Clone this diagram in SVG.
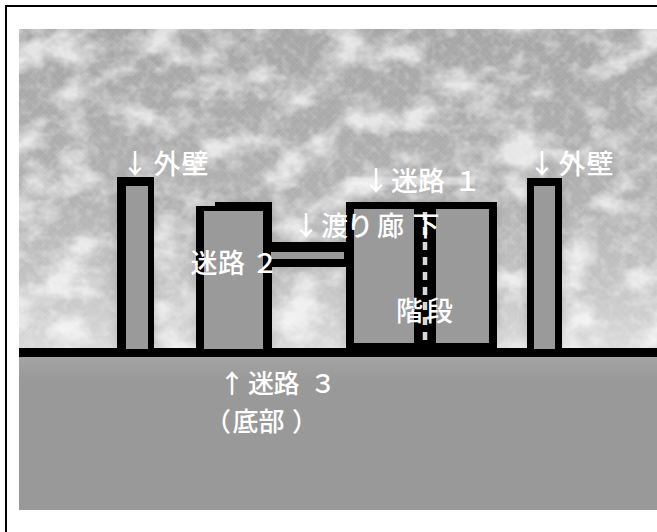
<svg xmlns="http://www.w3.org/2000/svg" width="657" height="532" viewBox="0 0 657 532">
  <style>
    .ink { fill: #000; }
    .room { fill: #9a9a9a; }
    .lbl { font-family: "Noto Sans CJK JP", "Noto Sans", sans-serif; font-size: 27px; font-weight: 500; fill: #fff; }
    .lbl-sm { font-size: 26px; }
  </style>
  <defs>
    <linearGradient id="skyGrad" x1="0" y1="29" x2="0" y2="348" gradientUnits="userSpaceOnUse">
      <stop offset="0" stop-color="#a6a6a6"/>
      <stop offset="0.5" stop-color="#b0b0b0"/>
      <stop offset="0.8" stop-color="#c4c4c4"/>
      <stop offset="1" stop-color="#dadada"/>
    </linearGradient>
    <linearGradient id="groundGrad" x1="0" y1="357" x2="0" y2="380" gradientUnits="userSpaceOnUse">
      <stop offset="0" stop-color="#a4a4a4"/>
      <stop offset="1" stop-color="#999999"/>
    </linearGradient>
    <clipPath id="skyClip"><rect x="19" y="29" width="638" height="320"/></clipPath>
    <!-- thin diagonal cross-hatching of the plaster surface -->
    <pattern id="hatch" width="9" height="9" patternUnits="userSpaceOnUse">
      <path d="M0 9 L9 0 M0 0 L9 9" stroke="#fff" stroke-width="0.7" fill="none"/>
    </pattern>
    <!-- mottled white cloud patches -->
    <filter id="clouds" x="0" y="0" width="100%" height="100%" filterUnits="objectBoundingBox">
      <feTurbulence type="fractalNoise" baseFrequency="0.022 0.03" numOctaves="4" seed="11" result="n"/>
      <feColorMatrix in="n" type="matrix" values="0 0 0 0 1  0 0 0 0 1  0 0 0 0 1  3 0 0 0 -1.3"/>
      <feGaussianBlur stdDeviation="0.6"/>
    </filter>
    <!-- fine grain of the plaster texture -->
    <filter id="grain" x="0" y="0" width="100%" height="100%" filterUnits="objectBoundingBox">
      <feTurbulence type="fractalNoise" baseFrequency="0.11" numOctaves="2" seed="3" result="g"/>
      <feColorMatrix in="g" type="matrix" values="0 0 0 0 1  0 0 0 0 1  0 0 0 0 1  2.4 0 0 0 -1.1"/>
    </filter>
    <filter id="halo" x="-30%" y="-30%" width="160%" height="160%">
      <feGaussianBlur stdDeviation="6"/>
    </filter>
    <filter id="soft" x="-10%" y="-50%" width="120%" height="200%">
      <feGaussianBlur stdDeviation="1.2"/>
    </filter>
  </defs>

  <!-- frame -->
  <rect x="0" y="0" width="657" height="532" fill="#fff"/>
  <rect x="5" y="5" width="652" height="2" class="ink"/>
  <rect x="5" y="5" width="2" height="527" class="ink"/>

  <!-- sky -->
  <g id="sky" clip-path="url(#skyClip)">
    <rect x="19" y="29" width="638" height="320" fill="url(#skyGrad)"/>
    <rect x="19" y="29" width="638" height="320" filter="url(#clouds)" opacity="0.7"/>
    <rect x="19" y="29" width="638" height="320" filter="url(#grain)" opacity="0.25"/>
    <rect x="19" y="29" width="638" height="320" fill="url(#hatch)" opacity="0.1"/>
    <!-- shading around the structures -->
    <g filter="url(#halo)" fill="#707070" opacity="0.3">
      <rect x="117" y="177" width="37" height="172"/>
      <rect x="196" y="202" width="76" height="147"/>
      <rect x="272" y="242" width="74" height="26"/>
      <rect x="346" y="202" width="151" height="147"/>
      <rect x="527" y="178" width="35" height="171"/>
    </g>
  </g>

  <!-- ground -->
  <g id="ground">
    <rect x="19" y="352" width="638" height="158" fill="url(#groundGrad)"/>
    <rect x="19" y="348" width="638" height="9" class="ink"/>
  </g>

  <!-- left outer wall -->
  <g id="wall-left">
    <rect x="117" y="177" width="37" height="173" class="ink"/>
    <rect x="126" y="186" width="22" height="163" class="room"/>
    <text class="lbl" x="121.5 153.5 181.5" y="174">↓外壁</text>
  </g>

  <!-- maze 2 -->
  <g id="maze2">
    <path d="M196 206 H215 V202 H272 V350 H196 Z" class="ink"/>
    <rect x="204" y="211" width="59" height="138" class="room"/>
  </g>

  <!-- maze 1 with staircase -->
  <g id="maze1">
    <rect x="345" y="177" width="130" height="8" fill="#fff" opacity="0.45" filter="url(#soft)"/>
    <rect x="346" y="202" width="151" height="148" class="ink"/>
    <rect x="354" y="209" width="60" height="134" class="room"/>
    <rect x="436" y="209" width="53" height="134" class="room"/>
    <line id="stairs" x1="425" y1="212" x2="425" y2="343" stroke="#d8d8d8" stroke-width="4.5" stroke-dasharray="8 7"/>
  </g>

  <!-- corridor between maze 2 and maze 1 -->
  <g id="corridor">
    <rect x="271" y="242" width="77" height="25" class="ink"/>
    <rect x="271" y="252" width="73" height="7" class="room"/>
  </g>

  <!-- right outer wall -->
  <g id="wall-right">
    <rect x="527" y="178" width="35" height="172" class="ink"/>
    <rect x="534" y="186" width="21" height="163" class="room"/>
    <text class="lbl" x="528.5 558.5 586.5" y="174">↓外壁</text>
  </g>

  <!-- labels drawn over the structures -->
  <g id="labels">
    <text class="lbl" x="190.5 218 251.5" y="273">迷路２</text>
    <text class="lbl" x="292.5 321 346.5 377 412.5" y="236">↓渡り廊下</text>
    <text class="lbl" x="362.5 391 418 454" y="191">↓迷路１</text>
    <text class="lbl" x="396 426" y="321">階段</text>
    <text class="lbl lbl-sm" x="219 248 273.5 310" y="393">↑迷路３</text>
    <text class="lbl lbl-sm" x="205 232.5 258.5 292" y="431">（底部）</text>
  </g>
</svg>
